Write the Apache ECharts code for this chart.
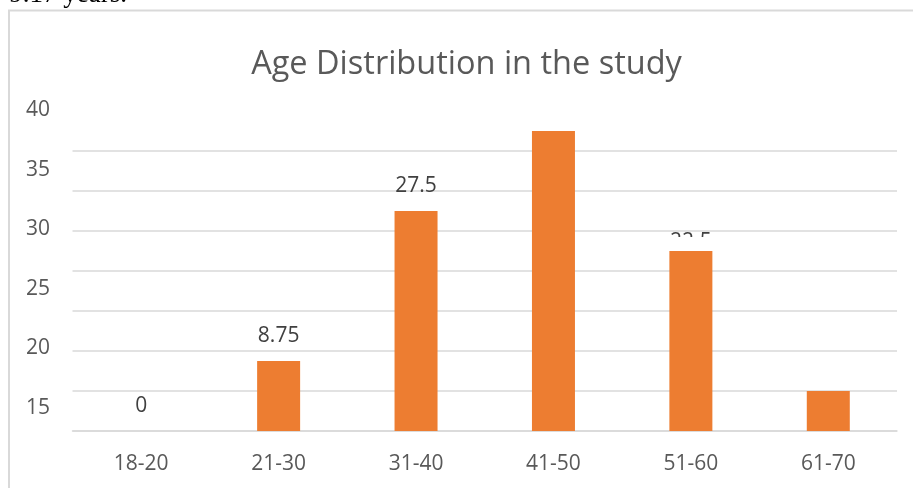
<!DOCTYPE html>
<html>
<head>
<meta charset="utf-8">
<title>Age Distribution in the study</title>
<script src="https://cdn.jsdelivr.net/npm/echarts@6/dist/echarts.min.js"></script>
<style>
  html, body { margin: 0; padding: 0; background: #ffffff; }
  #chart { width: 913px; height: 488px; }
</style>
</head>
<body>
<div id="chart"></div>
<script>
// Age groups and the share of participants in each
const categories = ['18-20', '21-30', '31-40', '41-50', '51-60', '61-70'];
const shares = [0, 8.75, 27.5, 37.5, 22.5, 5];
// Which bars carry a value label
const labelled = [true, true, true, false, true, false];
// Tick labels printed down the left side
const sideTicks = [15, 20, 25, 30, 35, 40];

const FONT = '"Open Sans", "Noto Sans", sans-serif';
const GREY = '#595959';
const GRID_GREY = '#d9d9d9';
const BAR = '#ED7D31';

const chart = echarts.init(document.getElementById('chart'), null, { renderer: 'canvas' });

const barData = shares.map(function (v, i) {
  const item = { value: v };
  if (!labelled[i]) {
    item.label = { show: false };
  } else if (categories[i] === '51-60') {
    item.label = { offset: [0, 16] };
  }
  return item;
});

chart.setOption({
  animation: false,
  backgroundColor: '#ffffff',
  textStyle: { fontFamily: FONT },
  grid: [
    { left: 72.5, right: 16, top: 151, bottom: 57, containLabel: false },
    { left: 73, right: 16, top: 110, bottom: 80, containLabel: false }
  ],
  xAxis: [
    {
      type: 'category',
      gridIndex: 0,
      data: categories,
      axisLine: { show: true, lineStyle: { color: GRID_GREY, width: 1.5 } },
      axisTick: { show: false },
      axisLabel: { color: GREY, fontSize: 21, fontFamily: FONT, margin: 23 }
    },
    {
      type: 'category',
      gridIndex: 1,
      data: categories,
      show: false
    }
  ],
  yAxis: [
    {
      type: 'value',
      gridIndex: 0,
      min: 0,
      max: 35,
      interval: 5,
      axisLine: { show: false },
      axisTick: { show: false },
      axisLabel: { show: false },
      splitLine: { show: true, lineStyle: { color: GRID_GREY, width: 1.5 } }
    },
    {
      type: 'value',
      gridIndex: 1,
      min: sideTicks[0],
      max: sideTicks[sideTicks.length - 1],
      interval: sideTicks[1] - sideTicks[0],
      axisLine: { show: false },
      axisTick: { show: false },
      splitLine: { show: false },
      axisLabel: { color: GREY, fontSize: 21, fontFamily: FONT, margin: 23, align: 'right' }
    }
  ],
  series: [
    {
      type: 'bar',
      xAxisIndex: 0,
      yAxisIndex: 0,
      data: barData,
      barWidth: 43,
      clip: false,
      itemStyle: { color: BAR },
      label: {
        show: true,
        position: 'top',
        distance: 14,
        color: '#404040',
        fontSize: 21,
        fontFamily: FONT
      }
    }
  ],
  graphic: [
    {
      type: 'rect',
      z: 0,
      silent: true,
      shape: { x: 9, y: 10.5, width: 940, height: 520 },
      style: { fill: null, stroke: GRID_GREY, lineWidth: 2 }
    },
    {
      type: 'text',
      z: 100,
      silent: true,
      x: 466.5,
      y: 65,
      style: {
        text: 'Age Distribution in the study',
        fill: GREY,
        font: '32.5px "Open Sans", "Noto Sans", sans-serif',
        textAlign: 'center',
        textVerticalAlign: 'middle'
      }
    },
    {
      type: 'text',
      z: 100,
      silent: true,
      x: 127,
      y: 8,
      style: {
        text: '9.17 years.',
        fill: '#000000',
        font: '27px "Liberation Serif", "DejaVu Serif", serif',
        textAlign: 'right',
        textVerticalAlign: 'bottom'
      }
    },
    {
      type: 'rect',
      z: 100,
      silent: true,
      shape: { x: 655, y: 237, width: 70, height: 12 },
      style: { fill: '#ffffff' }
    }
  ]
});
</script>
</body>
</html>
